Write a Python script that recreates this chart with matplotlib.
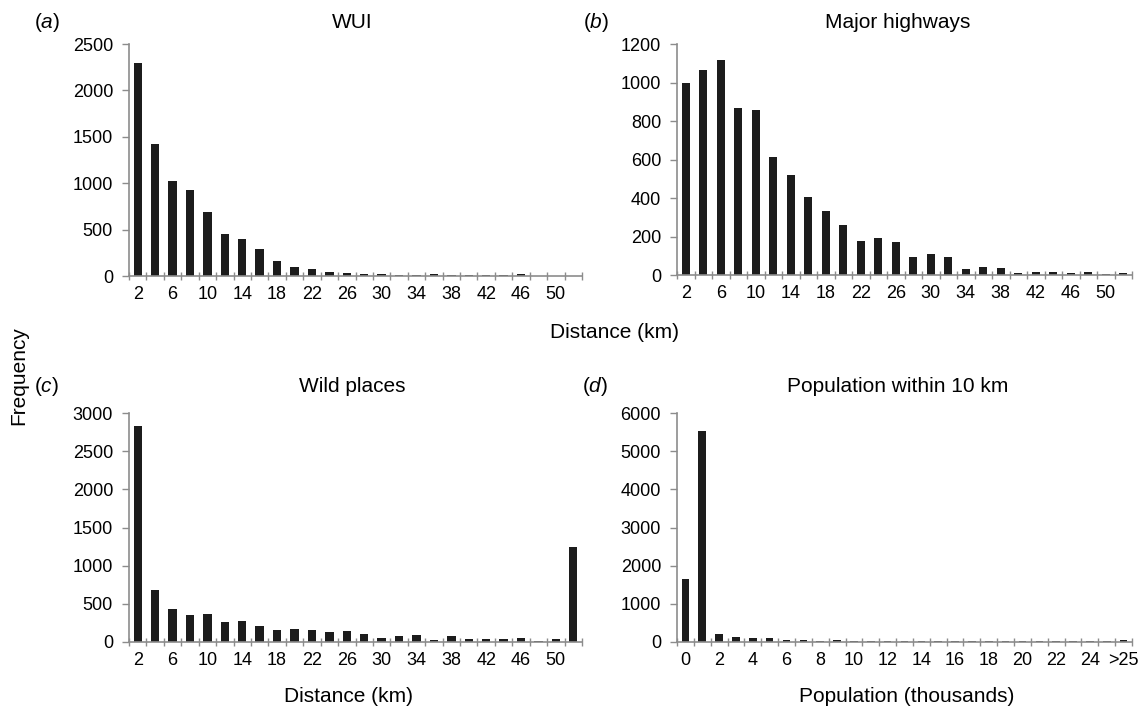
import matplotlib
matplotlib.use("Agg")
import matplotlib.pyplot as plt

plt.rcParams['font.family'] = ['Liberation Sans', 'DejaVu Sans']
plt.rcParams['mathtext.fontset'] = 'custom'
plt.rcParams['mathtext.rm'] = 'Liberation Sans'
plt.rcParams['mathtext.it'] = 'Liberation Sans:italic'

# distance bins (km), 2..52
dist_bins = [str(d) for d in range(2, 54, 2)]
# population bins (thousands), 0..25 and >25
pop_bins = [str(p) for p in range(0, 26)] + ['>25']

wui = [2300, 1420, 1020, 930, 690, 450, 400, 295, 160, 100, 75, 40, 32,
       25, 18, 10, 10, 18, 8, 8, 8, 15, 18, 3, 0, 0]
highways = [1000, 1065, 1115, 870, 855, 615, 518, 404, 335, 261, 178, 192, 173,
            95, 107, 92, 29, 41, 38, 10, 14, 14, 10, 14, 7, 10]
wild = [2827, 684, 433, 351, 372, 264, 273, 216, 156, 169, 156, 130, 139,
        100, 52, 82, 91, 30, 82, 43, 43, 43, 56, 13, 43, 1238]
population = [1640, 5540, 215, 130, 105, 100, 60, 40, 25, 40, 20, 20, 18, 18,
              18, 18, 15, 15, 15, 15, 15, 15, 15, 15, 15, 15, 60]

W, H = 1146, 709
fig = plt.figure(figsize=(W / 100, H / 100), dpi=100)


def px_axes(x0, y0, x1, y1):
    return fig.add_axes([x0 / W, 1 - y1 / H, (x1 - x0) / W, (y1 - y0) / H])


def draw_panel(ax, labels, values, ymax, ystep, bar_w):
    n = len(values)
    xs = list(range(n))
    ax.bar(xs, values, width=bar_w, color='#1c1c1c')
    ax.set_xlim(-0.5, n - 0.5)
    ax.set_ylim(0, ymax)
    ax.set_yticks(list(range(0, ymax + 1, ystep)))
    # boundary ticks like a spreadsheet chart, labels on every other bin
    ax.set_xticks([i - 0.5 for i in range(n + 1)])
    ax.set_xticklabels([])
    shown = list(range(0, n, 2))
    ax.set_xticks(shown, minor=True)
    ax.set_xticklabels([labels[i] for i in shown], minor=True)
    ax.tick_params(axis='x', which='major', direction='inout', length=6,
                   width=1, color='#8c8c8c')
    ax.tick_params(axis='x', which='minor', length=0, labelsize=13, pad=7)
    ax.tick_params(axis='y', direction='out', length=5, width=1,
                   color='#8c8c8c', labelsize=13, pad=6.5)
    for s in ['top', 'right']:
        ax.spines[s].set_visible(False)
    for s in ['left', 'bottom']:
        ax.spines[s].set_color('#8c8c8c')
        ax.spines[s].set_linewidth(1.2)


ax_a = px_axes(129, 44, 582, 276)
ax_b = px_axes(677, 44, 1132, 275)
ax_c = px_axes(129, 413, 582, 642)
ax_d = px_axes(677, 413, 1132, 642)

draw_panel(ax_a, dist_bins, wui, 2500, 500, 0.48)
draw_panel(ax_b, dist_bins, highways, 1200, 200, 0.48)
draw_panel(ax_c, dist_bins, wild, 3000, 500, 0.48)
draw_panel(ax_d, pop_bins, population, 6000, 1000, 0.45)

# titles and panel letters
titles = [("WUI", 352, 22), ("Major highways", 898, 22),
          ("Wild places", 352, 387), ("Population within 10 km", 898, 387)]
for t, x, y in titles:
    fig.text(x / W, 1 - y / H, t, ha='center', va='center', fontsize=15)

letters = [("a", 47, 22), ("b", 596, 22), ("c", 47, 387), ("d", 595, 387)]
for l, x, y in letters:
    fig.text(x / W, 1 - y / H, r'($\it{%s}$)' % l, ha='center', va='center', fontsize=15)

fig.text(615 / W, 1 - 333 / H, "Distance (km)", ha='center', va='center', fontsize=15)
fig.text(349 / W, 1 - 697 / H, "Distance (km)", ha='center', va='center', fontsize=15)
fig.text(907 / W, 1 - 697 / H, "Population (thousands)", ha='center', va='center', fontsize=15)
fig.text(19 / W, 1 - 376 / H, "Frequency", ha='center', va='center', fontsize=15,
         rotation=90)

fig.savefig("out.png", dpi=100)
